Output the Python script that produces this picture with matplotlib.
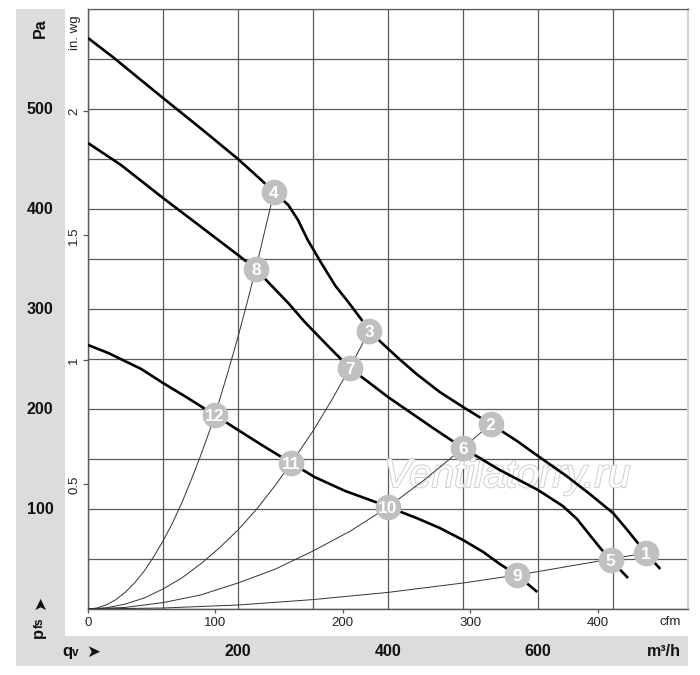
import matplotlib
matplotlib.use("Agg")
import matplotlib.pyplot as plt
from matplotlib.patches import Rectangle
from matplotlib import transforms
import matplotlib.patheffects as pe

plt.rcParams['font.family'] = ['Liberation Sans', 'DejaVu Sans']

# ---------------- data (m3/h, Pa) ----------------
curve_a_q = [0, 33, 100, 153, 200, 231, 248, 267, 280, 293, 311, 330, 347, 364, 375, 389, 412, 438, 469, 500, 537, 572, 600, 638, 669, 700, 718, 732, 744, 763]
curve_a_p = [571, 552, 511, 479, 450, 429, 417, 404, 389, 369, 346, 323, 307, 290, 279, 268, 252, 235, 217, 202, 185, 168, 153, 133, 115, 96, 80, 67, 56, 40]

curve_b_q = [0, 44, 100, 151, 200, 224, 240, 267, 289, 320, 349, 372, 400, 429, 460, 500, 549, 600, 633, 652, 669, 683, 697, 720]
curve_b_p = [466, 444, 411, 382, 354, 340, 327, 306, 287, 263, 241, 228, 212, 197, 181, 161, 139, 119, 103, 90, 74, 61, 49, 31]

curve_c_q = [0, 27, 71, 100, 133, 169, 200, 236, 271, 302, 343, 387, 400, 438, 469, 500, 527, 549, 572, 599]
curve_c_p = [264, 256, 240, 226, 211, 194, 179, 162, 146, 132, 118, 106, 102, 91, 81, 69, 57, 45, 34, 17]

sys1_q = [0, 12, 25, 37, 50, 62, 75, 87, 100, 112, 125, 137, 150, 162, 175, 187, 200, 212, 224, 236, 248]
sys1_p = [0, 1, 4.3, 9.3, 17, 26, 38, 51.5, 68, 85, 106, 128, 153, 178, 208, 238, 272, 306, 341, 379, 417]
sys2_q = [0, 25, 50, 75, 100, 125, 150, 175, 200, 225, 250, 271, 300, 325, 349, 375]
sys2_p = [0, 1.2, 5, 11, 20, 31, 45, 61, 79, 100, 124, 146, 178, 209, 241, 278]
sys3_q = [0, 50, 100, 150, 200, 250, 300, 350, 400, 450, 500, 537]
sys3_p = [0, 1.6, 6.4, 14, 26, 40, 58, 78, 102, 130, 161, 185]
sys4_q = [0, 100, 200, 300, 400, 500, 572, 600, 697, 744]
sys4_p = [0, 1, 4, 9.4, 16.6, 26, 34, 37.4, 50, 56]

point_labels = ['1', '2', '3', '4', '5', '6', '7', '8', '9', '10', '11', '12']
point_q = [744, 537, 375, 248, 697, 500, 349, 224, 572, 400, 271, 169]
point_p = [56, 185, 278, 417, 49, 161, 241, 340, 34, 102, 146, 194]

pa_labels = [100, 200, 300, 400, 500]
m3h_labels = [200, 400, 600]
inwg_ticks = [0.5, 1, 1.5, 2]
cfm_ticks = [0, 100, 200, 300, 400]

PA_PER_INWG = 249.089
M3H_PER_CFM = 1.699

# ---------------- figure ----------------
W, H = 700, 675
fig = plt.figure(figsize=(W / 100, H / 100), dpi=100)

def fx(px):
    return px / W

def fy(py):
    return 1 - py / H

grey = '#dcdcdc'
fig.patches.append(Rectangle((fx(16), fy(636)), fx(65) - fx(16), fy(9) - fy(636),
                             transform=fig.transFigure, facecolor=grey, edgecolor='none', zorder=-10))
fig.patches.append(Rectangle((fx(16), fy(666)), fx(688) - fx(16), fy(636) - fy(666),
                             transform=fig.transFigure, facecolor=grey, edgecolor='none', zorder=-10))

ax = fig.add_axes([fx(88), fy(609), fx(688) - fx(88), fy(9) - fy(609)])
ax.set_facecolor('white')
ax.set_xlim(0, 800)
ax.set_ylim(0, 600)

gridc = '#5a5a5a'
ax.set_xticks(range(0, 801, 100))
ax.set_yticks(range(0, 601, 50))
ax.grid(True, color=gridc, linewidth=0.9)
ax.tick_params(left=False, labelleft=False, bottom=False, labelbottom=False)
for s in ['left', 'bottom', 'top']:
    ax.spines[s].set_color(gridc)
    ax.spines[s].set_linewidth(0.9)
ax.spines['right'].set_color('#d4d4d4')
ax.spines['right'].set_linewidth(1.6)

# system curves
for q, p in [(sys1_q, sys1_p), (sys2_q, sys2_p), (sys3_q, sys3_p), (sys4_q, sys4_p)]:
    ax.plot(q, p, color='#333333', linewidth=0.7, zorder=3)

# fan curves
for q, p in [(curve_a_q, curve_a_p), (curve_b_q, curve_b_p), (curve_c_q, curve_c_p)]:
    ax.plot(q, p, color='black', linewidth=1.9, zorder=4, solid_capstyle='butt',
            solid_joinstyle='round')

# operating points
ax.plot(point_q, point_p, linestyle='none', marker='o', markersize=18.5,
        markerfacecolor='#c0c0c0', markeredgecolor='none', zorder=5)
for lab, q, p in zip(point_labels, point_q, point_p):
    ax.text(q, p, lab, ha='center', va='center_baseline', color='white',
            fontsize=12.5, fontweight='bold', zorder=6)

# watermark
ax.text(fx(507), fy(476), 'Ventilatorry.ru', transform=fig.transFigure,
        fontsize=29, style='italic', color='white', ha='center', va='center',
        zorder=1.8, clip_on=False,
        path_effects=[pe.Stroke(linewidth=1.4, foreground='#cfcfcf'), pe.Normal()])

# secondary y axis: in. wg
sec_y = ax.secondary_yaxis('left', functions=(lambda p: p / PA_PER_INWG, lambda w: w * PA_PER_INWG))
sec_y.set_yticks(inwg_ticks)
sec_y.set_yticklabels([('%g' % v) for v in inwg_ticks], rotation=90, va='center')
sec_y.tick_params(direction='out', length=3.6, width=0.9, color=gridc, pad=2,
                  labelsize=9.5, labelcolor='#222222')
sec_y.spines['left'].set_color(gridc)
sec_y.spines['left'].set_linewidth(0.9)

# secondary x axis: cfm
sec_x = ax.secondary_xaxis('bottom', functions=(lambda q: q / M3H_PER_CFM, lambda c: c * M3H_PER_CFM))
sec_x.set_xticks(cfm_ticks)
sec_x.tick_params(direction='out', length=3, width=0.9, color=gridc, pad=3,
                  labelsize=9.5, labelcolor='#222222')
sec_x.spines['bottom'].set_color(gridc)
sec_x.spines['bottom'].set_linewidth(0.9)

# Pa labels
tr_y = transforms.blended_transform_factory(fig.transFigure, ax.transData)
for v in pa_labels:
    ax.text(fx(40), v, str(v), transform=tr_y, ha='center', va='center',
            fontsize=11.5, fontweight='bold', color='#111111', clip_on=False)

# m3/h labels
tr_x = transforms.blended_transform_factory(ax.transData, fig.transFigure)
for v in m3h_labels:
    ax.text(v, fy(651), str(v), transform=tr_x, ha='center', va='center',
            fontsize=11.5, fontweight='bold', color='#111111', clip_on=False)

fig.text(fx(681), fy(651), 'm³/h', ha='right', va='center', fontsize=11.5,
         fontweight='bold', color='#111111')
fig.text(fx(681), fy(622), 'cfm', ha='right', va='center', fontsize=9.5, color='#222222')
fig.text(fx(40), fy(28), 'Pa', rotation=90, ha='center', va='center', fontsize=11.5,
         fontweight='bold', color='#111111')
fig.text(fx(75), fy(33), 'in. wg', rotation=90, ha='center', va='center', fontsize=9.5,
         color='#222222')

# qv arrow label
fig.text(fx(62), fy(656), 'q', ha='left', va='baseline', fontsize=12, fontweight='bold', color='#111111')
fig.text(fx(71.5), fy(656), 'v', ha='left', va='baseline', fontsize=8.5, fontweight='bold', color='#111111')
fig.text(fx(93), fy(652), '➤', ha='center', va='center', fontsize=12,
         family=['DejaVu Sans'], color='#111111')

# pfs arrow label (rotated)
fig.text(fx(43), fy(638), 'p', ha='left', va='baseline', rotation=90, rotation_mode='anchor',
         fontsize=12, fontweight='bold', color='#111111')
fig.text(fx(43), fy(628), 'fs', ha='left', va='baseline', rotation=90, rotation_mode='anchor',
         fontsize=8.5, fontweight='bold', color='#111111')
fig.text(fx(40), fy(603), '➤', ha='center', va='center', rotation=90, fontsize=12,
         family=['DejaVu Sans'], color='#111111')

fig.savefig('out.png', dpi=100)
